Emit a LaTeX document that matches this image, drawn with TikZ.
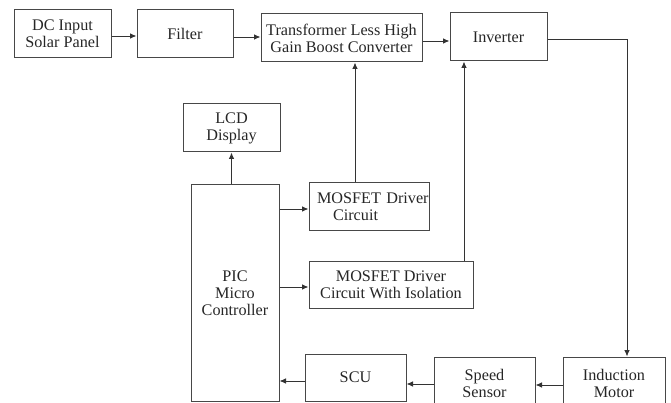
\documentclass[tikz,border=0pt]{standalone}
\usepackage{fontspec}
\setmainfont{Liberation Serif}
\usetikzlibrary{arrows.meta,positioning}

\begin{document}
\begin{tikzpicture}[
    x=1pt, y=-1pt,
    box/.style={draw=black!72, line width=1pt, text=black!85, align=center,
      font=\fontsize{16.2}{17}\selectfont, inner sep=2pt},
    link/.style={draw=black!80, line width=0.9pt, -{Latex[length=6.5pt,width=5.5pt]}},
    >=Latex
  ]
  \clip (0,0) rectangle (671,403);
  \node[box, minimum width=97pt, minimum height=48pt] (dc) at (62.5,34) {DC Input\\Solar Panel};
  \node[box, minimum width=96pt, minimum height=48pt] (filter) at (185,34) {Filter};
  \node[box, minimum width=161pt, minimum height=48pt] (trans) at (341.5,38) {Transformer Less High\\Gain Boost Converter};
  \node[box, minimum width=97pt, minimum height=48pt] (inv) at (498.5,37) {Inverter};
  \node[box, minimum width=97pt, minimum height=48pt] (lcd) at (231.5,128) {LCD\\Display};
  \node[box, minimum width=88pt, minimum height=216pt] (pic) at (235,293) {PIC\\Micro\\Controller};
  \node[box, text width=104pt, inner xsep=8pt, align=left, minimum height=47pt] (drv) at (369,206.5)
    {\mbox{MOSFET Driver}\\\hspace*{16pt}Circuit};
  \node[box, minimum width=164pt, minimum height=47pt] (iso) at (391,284.5) {MOSFET Driver\\Circuit With Isolation};
  \node[box, minimum width=101pt, minimum height=47pt] (scu) at (355.5,377.5) {SCU};
  \node[box, minimum width=101pt, minimum height=52pt] (spd) at (484.5,383) {Speed\\Sensor};
  \node[box, minimum width=102pt, minimum height=52pt] (mot) at (614,383) {Induction\\Motor};

  \draw[link] (dc.east |- 0,36) -- (filter.west |- 0,36);
  \draw[link] (filter.east |- 0,37) -- (trans.west |- 0,37);
  \draw[link] (trans.east |- 0,41) -- (inv.west |- 0,41);
  \draw[link] (inv.east |- 0,39) -| ([xshift=13pt]mot.north);
  \draw[link] (mot.west |- 0,385) -- (spd.east |- 0,385);
  \draw[link] (spd.west |- 0,384) -- (scu.east |- 0,384);
  \draw[link] (scu.west |- 0,381) -- (pic.east |- 0,381);
  \draw[link] (lcd.south |- pic.north) -- (lcd.south);
  \draw[link] (pic.east |- 0,209) -- (drv.west |- 0,209);
  \draw[link] (pic.east |- 0,287) -- (iso.west |- 0,287);
  \draw[link] ([xshift=-14pt]drv.north) -- ([xshift=-14pt]drv.north |- trans.south);
  \draw[link] ([xshift=-34.5pt]inv.south |- iso.north) -- ([xshift=-34.5pt]inv.south);
\end{tikzpicture}
\end{document}
